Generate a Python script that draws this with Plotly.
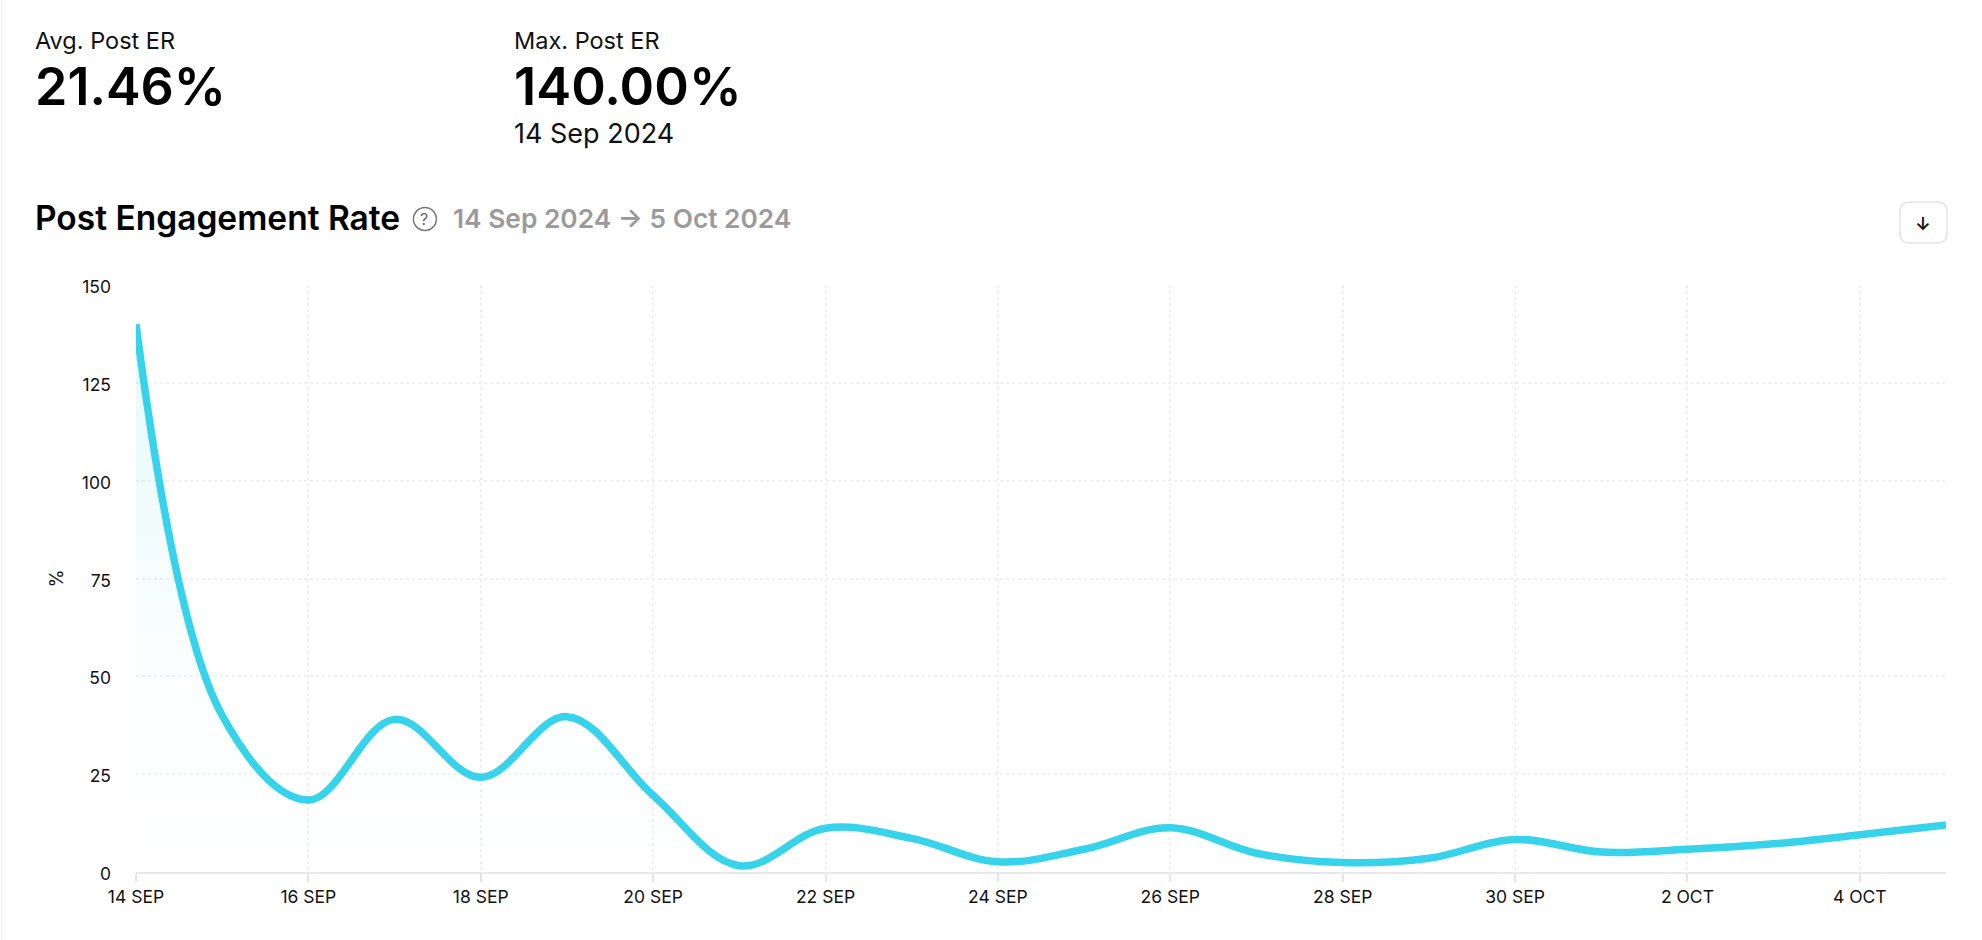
import plotly.graph_objects as go

dates = ["2024-09-14","2024-09-15","2024-09-16","2024-09-17","2024-09-18","2024-09-19","2024-09-20","2024-09-21",
         "2024-09-22","2024-09-23","2024-09-24","2024-09-25","2024-09-26","2024-09-27","2024-09-28","2024-09-29",
         "2024-09-30","2024-10-01","2024-10-02","2024-10-03","2024-10-04","2024-10-05"]
post_er = [140, 40, 18.4, 39, 24.2, 39.7, 19.6, 1.6, 11.2, 8.6, 2.6, 5.8, 11.3, 4.8, 2.4, 3.5, 8.3, 5.1, 5.8, 7.2, 9.5, 12]
x_ticks = ["2024-09-14","2024-09-16","2024-09-18","2024-09-20","2024-09-22","2024-09-24","2024-09-26","2024-09-28",
           "2024-09-30","2024-10-02","2024-10-04"]
x_labels = ["14 SEP","16 SEP","18 SEP","20 SEP","22 SEP","24 SEP","26 SEP","28 SEP","30 SEP","2 OCT","4 OCT"]
y_ticks = [0, 25, 50, 75, 100, 125, 150]

FONT = "Inter"
W, H = 1982, 940
L, R, T, B = 135.5, 1946, 285, 872
INK = "#111111"

fig = go.Figure()
fig.add_trace(go.Scatter(
    x=dates, y=post_er, mode="lines",
    line=dict(color="#36D3EB", width=7.5, shape="spline", smoothing=1.05),
    fill="tozeroy",
    fillgradient=dict(type="vertical",
                      colorscale=[[0, "rgba(54,211,235,0)"], [0.35, "rgba(54,211,235,0.015)"], [1, "rgba(54,211,235,0.13)"]]),
    cliponaxis=False, hoverinfo="x+y", showlegend=False,
))

def px(x): return (x - L) / (R - L)
def py(y): return (B - y) / (B - T)

def label(x, y, text, size, color=INK, weight=400):
    fig.add_annotation(xref="paper", yref="paper", x=px(x), y=py(y), text=text, showarrow=False,
                       xanchor="left", yanchor="middle", align="left", xshift=-1,
                       font=dict(family=FONT, size=size, color=color, weight=weight))

label(33.5, 41, "Avg. Post ER", 23.5)
label(33, 87, "21.46%", 52, "#000000", 600)
label(513, 41, "Max. Post ER", 23.5)
label(513, 86, "140.00%", 52.5, "#000000", 600)
label(513, 133, "14 Sep 2024", 27)
label(33.5, 218, "Post Engagement Rate", 33.5, "#000000", 600)
label(452, 219, "14 Sep 2024 → 5 Oct 2024", 26.3, "#9a9a9a", 600)
fig.add_annotation(xref="paper", yref="paper", x=px(424), y=py(219), text="?", showarrow=False,
                   xanchor="center", yanchor="middle", font=dict(family=FONT, size=16, color="#666666"))
fig.add_annotation(xref="paper", yref="paper", x=px(1923), y=py(224), text="↓", showarrow=False,
                   xanchor="center", yanchor="middle", font=dict(family=FONT, size=18, color="#111111", weight=600))

shapes = [
    dict(type="circle", xref="paper", yref="paper", x0=px(413), x1=px(436), y0=py(230.5), y1=py(207.5),
         line=dict(color="#777777", width=1.5), fillcolor="rgba(0,0,0,0)"),
    dict(type="line", xref="paper", yref="paper", x0=px(1), x1=px(1), y0=py(H), y1=py(0),
         line=dict(color="#eeeeee", width=1)),
]
# rounded button
x0, x1, y0, y1, r = px(1900), px(1947), py(202), py(243), 10
rx, ry = r / (R - L), r / (B - T)
shapes.append(dict(type="path", xref="paper", yref="paper",
    path=f"M {x0+rx} {y0} L {x1-rx} {y0} Q {x1} {y0} {x1} {y0-ry} L {x1} {y1+ry} Q {x1} {y1} {x1-rx} {y1} "
         f"L {x0+rx} {y1} Q {x0} {y1} {x0} {y1+ry} L {x0} {y0-ry} Q {x0} {y0} {x0+rx} {y0} Z",
    line=dict(color="#e4e4e4", width=1.5), fillcolor="rgba(0,0,0,0)"))

fig.update_layout(
    width=W, height=H, margin=dict(l=L, r=W - R, t=T, b=H - B),
    paper_bgcolor="#ffffff", plot_bgcolor="#ffffff",
    font=dict(family=FONT, size=18, color=INK), shapes=shapes, showlegend=False,
    xaxis=dict(type="date", range=["2024-09-14", "2024-10-05"], tickmode="array", tickvals=x_ticks, ticktext=x_labels,
               showgrid=True, griddash="dot", gridcolor="#f0f0f0", gridwidth=1.5,
               showline=True, linecolor="#e8e8e8", linewidth=1.5,
               ticks="outside", ticklen=8, tickcolor="#e4e4e4", tickwidth=1.5, zeroline=False,
               tickfont=dict(family=FONT, size=17.5, color=INK)),
    yaxis=dict(range=[0, 150], tickmode="array", tickvals=y_ticks, ticktext=[str(v) for v in y_ticks],
               showgrid=True, griddash="dot", gridcolor="#f0f0f0", gridwidth=1.5, zeroline=False, showline=False,
               ticks="", ticklabelstandoff=24, ticklabelshift=2,
               title=dict(text="%", standoff=13, font=dict(family=FONT, size=18, color=INK)),
               tickfont=dict(family=FONT, size=17.5, color=INK)),
)

fig.write_html("out.html", config={"displayModeBar": False},
               post_script="document.body.style.margin='0';document.documentElement.style.overflow='hidden';")
